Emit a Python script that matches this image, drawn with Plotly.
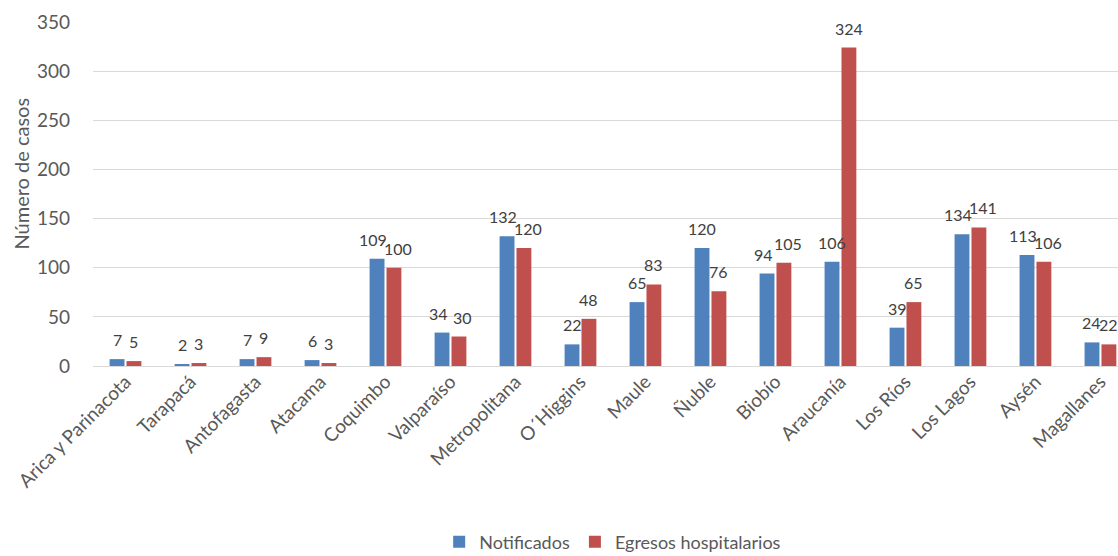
import plotly.graph_objects as go

# Regiones de Chile
regiones = [
    "Arica y Parinacota", "Tarapacá", "Antofagasta", "Atacama", "Coquimbo",
    "Valparaíso", "Metropolitana", "O´Higgins", "Maule", "Ñuble", "Biobío",
    "Araucanía", "Los Ríos", "Los Lagos", "Aysén", "Magallanes",
]
notificados = [7, 2, 7, 6, 109, 34, 132, 22, 65, 120, 94, 106, 39, 134, 113, 24]
egresos = [5, 3, 9, 3, 100, 30, 120, 48, 83, 76, 105, 324, 65, 141, 106, 22]

y_ticks = [0, 50, 100, 150, 200, 250, 300, 350]

AZUL = "#4F81BD"
ROJO = "#C0504D"
GRIS_TEXTO = "#595959"
GRIS_ETIQUETA = "#404040"
FUENTE = "Lato, 'Open Sans', sans-serif"

W, H = 1118, 556
M_L, M_R, M_T, M_B = 92.5, 0, 22, 190
X_RANGE = [-0.5, 15.27]
Y_RANGE = [0, 350]
BARGAP, BARGROUPGAP = 0.48, 0.12

fig = go.Figure()
fig.add_trace(go.Bar(name="Notificados", x=regiones, y=notificados,
                     marker=dict(color=AZUL, line=dict(width=0))))
fig.add_trace(go.Bar(name="Egresos hospitalarios", x=regiones, y=egresos,
                     marker=dict(color=ROJO, line=dict(width=0))))

# Etiquetas de valor sobre cada barra (se separan un poco cuando
# las dos etiquetas de un grupo quedan casi a la misma altura)
px_por_categoria = (W - M_L - M_R) / (X_RANGE[1] - X_RANGE[0])
desplazamiento = px_por_categoria * (1 - BARGAP) / 4
for reg, a, b in zip(regiones, notificados, egresos):
    juntas = min(a, b) >= 30 and abs(a - b) < 15
    empuje = 4 if juntas else 0
    for val, signo in ((a, -1), (b, 1)):
        fig.add_annotation(
            x=reg, y=val, xref="x", yref="y", text=str(val), showarrow=False,
            xanchor="center", yanchor="bottom",
            xshift=signo * (desplazamiento + empuje), yshift=8,
            font=dict(family=FUENTE, size=16, color=GRIS_ETIQUETA),
        )

# Título del eje vertical, situado en píxeles y convertido a papel
plot_w = W - M_L - M_R
plot_h = H - M_T - M_B
fig.add_annotation(
    x=(20 - M_L) / plot_w, y=(H - M_B - 174) / plot_h, xref="paper", yref="paper",
    text="Número de casos", showarrow=False, textangle=-90,
    xanchor="center", yanchor="middle",
    font=dict(family=FUENTE, size=20, color=GRIS_TEXTO),
)

fig.update_layout(
    width=W, height=H,
    margin=dict(l=M_L, r=M_R, t=M_T, b=M_B, autoexpand=False),
    paper_bgcolor="white", plot_bgcolor="white",
    barmode="group", bargap=BARGAP, bargroupgap=BARGROUPGAP,
    font=dict(family=FUENTE, color=GRIS_TEXTO),
    showlegend=True,
    legend=dict(orientation="h", x=0.507, xanchor="center",
                y=(H - M_B - 542) / plot_h, yanchor="middle",
                font=dict(size=18, color=GRIS_TEXTO), traceorder="normal",
                itemwidth=30, borderwidth=0),
    xaxis=dict(range=X_RANGE, tickangle=-45, showgrid=False, showline=False,
               ticks="", tickfont=dict(size=19, color=GRIS_TEXTO), automargin=False),
    yaxis=dict(range=Y_RANGE, tickvals=y_ticks, showgrid=True, gridcolor="#D9D9D9",
               gridwidth=1, zeroline=True, zerolinecolor="#D9D9D9", zerolinewidth=1,
               showline=False, ticks="", ticklabelstandoff=22,
               tickfont=dict(size=19, color=GRIS_TEXTO), automargin=False),
)

fig.write_html("out.html")
